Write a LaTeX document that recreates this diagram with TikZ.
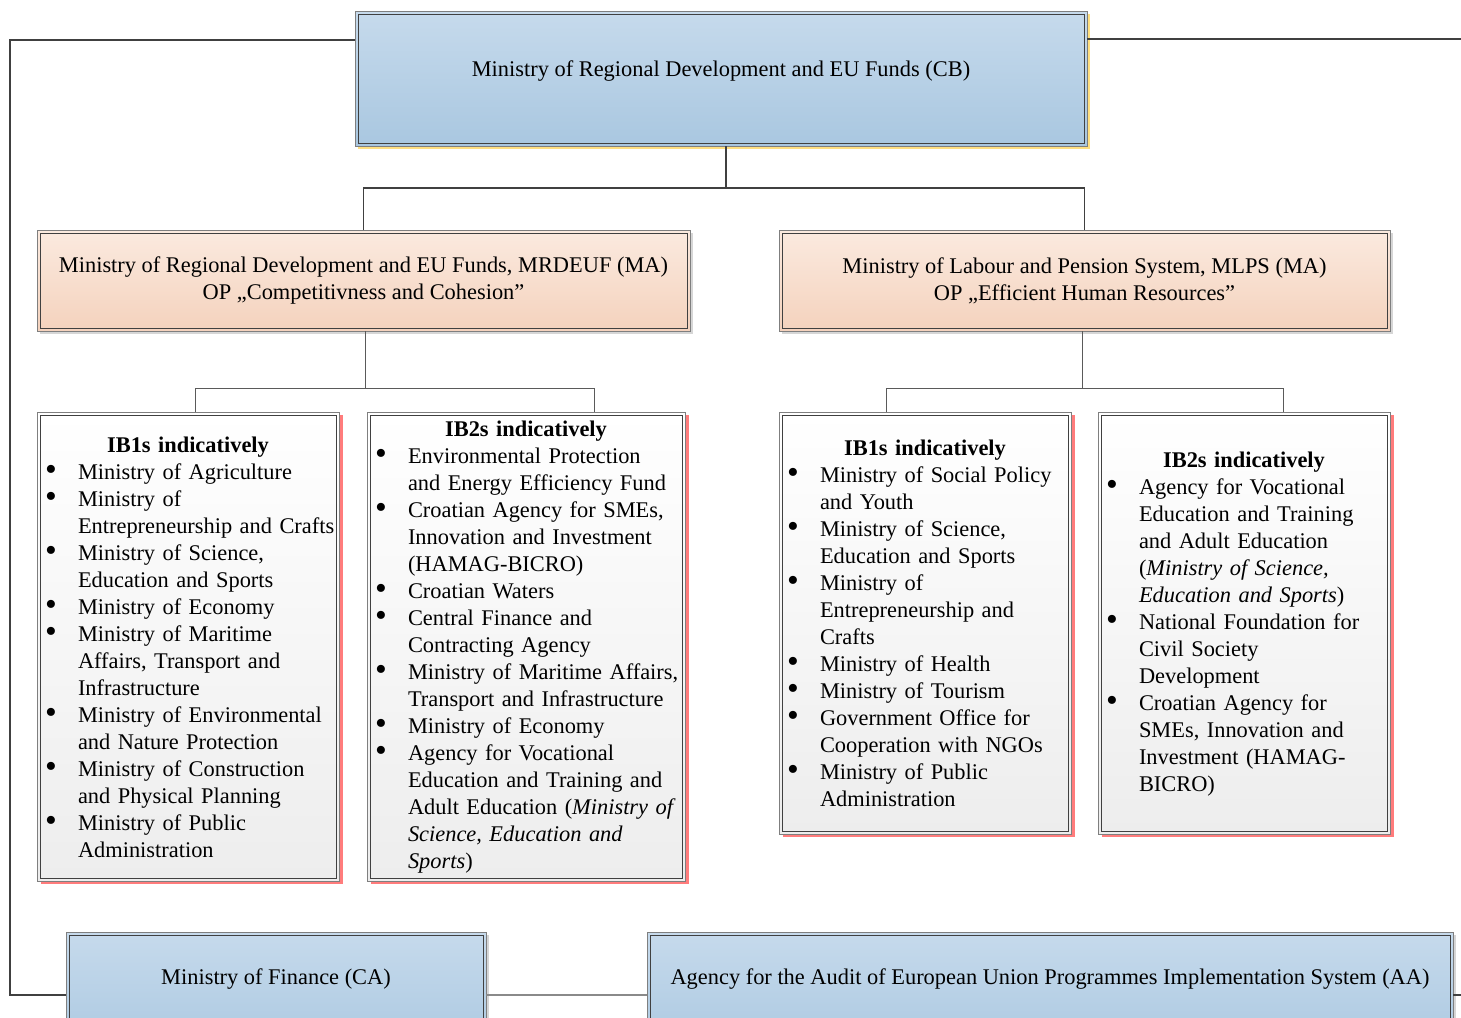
\documentclass[tikz,border=0pt]{standalone}
\usepackage{fontspec}
\usepackage{graphicx}
\setmainfont{Liberation Serif}
\usetikzlibrary{shadows,calc}
\definecolor{blueT}{HTML}{C6DAEC}
\definecolor{blueB}{HTML}{A9C7E0}
\definecolor{peachT}{HTML}{FBEADF}
\definecolor{peachB}{HTML}{F4D2BD}
\definecolor{ibB}{HTML}{EDEDED}
\definecolor{shY}{HTML}{FFDF80}
\definecolor{shR}{HTML}{FF7C7C}
\definecolor{shG}{HTML}{D6D6D6}
\definecolor{outerC}{HTML}{7F7F7F}
\definecolor{innerC}{HTML}{404040}
\definecolor{lineD}{HTML}{404040}
\definecolor{lineG}{HTML}{5A5A5A}
\definecolor{lineL}{HTML}{8A8A8A}
\newcommand\nlb{\hfil\break}
\newcommand\hd[1]{\vspace*{-10pt}\par\noindent\makebox[\linewidth][c]{\bfseries #1}\par}
\newcommand\bi[1]{\par\begingroup\let\\\nlb\noindent\hangindent=41pt\hangafter=1\rightskip=0pt plus 1fil\relax
  \hspace*{8pt}\makebox[33pt][l]{\raisebox{-1pt}{\scalebox{1.5}{\textbullet}}}#1\par\endgroup}
\begin{document}
\begin{tikzpicture}[x=1pt,y=-1pt,
  every node/.style={font=\fontsize{22.4pt}{27pt}\selectfont, inner sep=0pt, outer sep=0pt},
  box/.style={draw=outerC, line width=1pt, anchor=north west},
  bluebox/.style={box, top color=blueT, bottom color=blueB,
     drop shadow={shadow xshift=3pt, shadow yshift=-3pt, fill=#1, opacity=1}},
  peachbox/.style={box, top color=peachT, bottom color=peachB, align=center,
     drop shadow={shadow xshift=3pt, shadow yshift=-3pt, fill=shG, opacity=1}},
  ibbox/.style={box, top color=white, bottom color=ibB,
     drop shadow={shadow xshift=4pt, shadow yshift=-3pt, fill=shR, opacity=1}},
  innerline/.style={draw=innerC, line width=1pt},
  conn/.style={draw=lineD, line width=1.5pt},
  thinconn/.style={draw=lineG, line width=1pt},
  lightconn/.style={draw=lineL, line width=1.5pt}]
\path[use as bounding box] (0,0) rectangle (1461,1017);
\clip (0,0) rectangle (1461,1017);

% boxes
\node[bluebox=shY, minimum width=732pt, minimum height=135pt] (cb) at (355,11) {};
\node[anchor=base] (cbt) at (721,76) {Ministry of Regional Development and EU Funds (CB)};

\node[peachbox, minimum width=653pt, minimum height=101pt] (ma1) at (37,230)
  {Ministry of Regional Development and EU Funds, MRDEUF (MA)\\OP „Competitivness and Cohesion”};
\node[peachbox, minimum width=611pt, minimum height=101pt] (ma2) at (779,230)
  {Ministry of Labour and Pension System, MLPS (MA)\\OP „Efficient Human Resources”};

\node[ibbox, text width=302pt, minimum height=469pt] (ib1a) at (37,412) {%
\hd{IB1s indicatively}
\bi{Ministry of Agriculture}
\bi{Ministry of\\Entrepreneurship and Crafts}
\bi{Ministry of Science,\\Education and Sports}
\bi{Ministry of Economy}
\bi{Ministry of Maritime\\Affairs, Transport and\\Infrastructure}
\bi{Ministry of Environmental\\and Nature Protection}
\bi{Ministry of Construction\\and Physical Planning}
\bi{Ministry of Public\\Administration}};

\node[ibbox, text width=318pt, minimum height=469pt] (ib2a) at (367,412) {%
\hd{IB2s indicatively}
\bi{Environmental Protection\\and Energy Efficiency Fund}
\bi{Croatian Agency for SMEs,\\Innovation and Investment\\(HAMAG-BICRO)}
\bi{Croatian Waters}
\bi{Central Finance and\\Contracting Agency}
\bi{Ministry of Maritime Affairs,\\Transport and Infrastructure}
\bi{Ministry of Economy}
\bi{Agency for Vocational\\Education and Training and\\Adult Education (\textit{Ministry of}\\\textit{Science, Education and}\\\textit{Sports})}};

\node[ibbox, text width=292pt, minimum height=422pt] (ib1b) at (779,412) {%
\hd{IB1s indicatively}
\bi{Ministry of Social Policy\\and Youth}
\bi{Ministry of Science,\\Education and Sports}
\bi{Ministry of\\Entrepreneurship and\\Crafts}
\bi{Ministry of Health}
\bi{Ministry of Tourism}
\bi{Government Office for\\Cooperation with NGOs}
\bi{Ministry of Public\\Administration}};

\node[ibbox, text width=292pt, minimum height=422pt] (ib2b) at (1098,412) {%
\hd{IB2s indicatively}
\bi{Agency for Vocational\\Education and Training\\and Adult Education\\(\textit{Ministry of Science,}\\\textit{Education and Sports})}
\bi{National Foundation for\\Civil Society\\Development}
\bi{Croatian Agency for\\SMEs, Innovation and\\Investment (HAMAG-\\BICRO)}};

\node[bluebox=shG, minimum width=420pt, minimum height=130pt] (ca) at (66,932) {};
\node[anchor=base] (cat) at (276,984) {Ministry of Finance (CA)};
\node[bluebox=shG, minimum width=806pt, minimum height=130pt] (aa) at (647,932) {};
\node[anchor=base] (aat) at (1050,984) {Agency for the Audit of European Union Programmes Implementation System (AA)};

% inner border lines
\foreach \n in {cb,ma1,ma2,ib1a,ib2a,ib1b,ib2b,ca,aa}
  \draw[innerline] ([shift={(3pt,-3pt)}]\n.north west) rectangle ([shift={(-3pt,3pt)}]\n.south east);

% coordinates
\coordinate (j1) at (726,188);
\coordinate (j2) at (365,388);
\coordinate (j3) at (1082,388);
\coordinate (t1) at (195,388);
\coordinate (t2) at (594,388);
\coordinate (t3) at (886,388);
\coordinate (t4) at (1283,388);
\coordinate (lt) at (10,40);
\coordinate (lb) at (10,995);
\coordinate (rt) at (1461,39);
\coordinate (rb) at (1461,995);

% connectors
\draw[conn] (j1 |- cb.south) -- (j1);
\draw[conn] (ma1.north) |- (j1) -| (ma2.north);
\draw[thinconn] (j2 |- ma1.south) -- (j2);
\draw[thinconn] (t1 |- ib1a.north) -- (t1) -- (t2) -- (t2 |- ib2a.north);
\draw[thinconn] (j3 |- ma2.south) -- (j3);
\draw[thinconn] (t3 |- ib1b.north) -- (t3) -- (t4) -- (t4 |- ib2b.north);
\draw[conn] (cb.west |- lt) -- (lt) -- (lb) -- (ca.west |- lb);
\draw[conn] (cb.east |- rt) -- (rt);
\draw[lightconn] (ca.east |- lb) -- (aa.west |- lb);
\draw[conn] (aa.east |- rb) -- (rb);
\end{tikzpicture}
\end{document}
